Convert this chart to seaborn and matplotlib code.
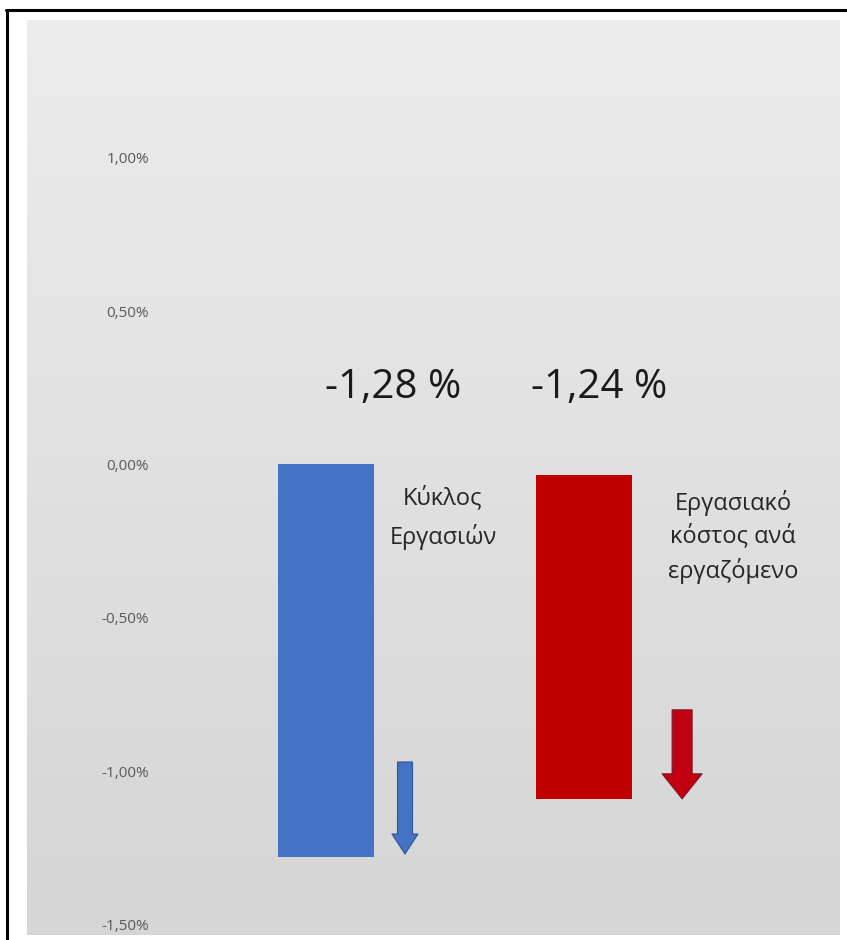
import numpy as np
import pandas as pd
import matplotlib
matplotlib.use("Agg")
import matplotlib.pyplot as plt
import seaborn as sns
from matplotlib.lines import Line2D
from matplotlib.colors import LinearSegmentedColormap

# ---- data ----
categories = ["Κύκλος Εργασιών", "Εργασιακό κόστος ανά εργαζόμενο"]
bar_top = [0.00, -0.035]
bar_end = [-1.28, -1.09]
value_labels = ["-1,28 %", "-1,24 %"]
name_texts = ["Κύκλος\nΕργασιών", "Εργασιακό\nκόστος ανά\nεργαζόμενο"]
bar_colors = ["#4472C4", "#C00000"]
arrow_from = [-0.97, -0.80]
arrow_to = [-1.27, -1.09]
tick_values = [1.0, 0.5, 0.0, -0.5, -1.0, -1.5]
tick_labels = ["1,00%", "0,50%", "0,00%", "-0,50%", "-1,00%", "-1,50%"]

sns.set_theme(style="white")
plt.rcParams["font.family"] = ["Open Sans", "DejaVu Sans"]

W, H = 847, 940
fig = plt.figure(figsize=(W / 100, H / 100), dpi=100)
fig.patch.set_facecolor("white")

ax = fig.add_axes([27 / W, 5 / H, 812 / W, 915 / H])
ax.set_facecolor("none")

# gradient panel background
cmap = LinearSegmentedColormap.from_list("bg", ["#ececec", "#d5d5d5"])
ax.imshow(np.linspace(0, 1, 256).reshape(-1, 1), cmap=cmap, extent=(0, 1, 0, 1),
          transform=ax.transAxes, aspect="auto", zorder=0)

df = pd.DataFrame({"cat": categories,
                   "height": [e - t for e, t in zip(bar_end, bar_top)]})
sns.barplot(data=df, x="cat", y="height", bottom=bar_top, width=0.37,
            color=bar_colors[0], saturation=1,
            linewidth=0, errorbar=None, ax=ax, zorder=2)
for p, c in zip(ax.patches, bar_colors):
    p.set_facecolor(c)
    p.set_edgecolor("none")

ax.set_xlim(-1.159, 1.988)
ax.set_ylim(-1.534, 1.449)
ax.set_xlabel("")
ax.set_ylabel("")
ax.set_xticks([])
ax.set_yticks(tick_values)
ax.set_yticklabels(tick_labels)
ax.tick_params(axis="y", length=0, pad=-88, labelsize=11, labelcolor="#595959")
for s in ax.spines.values():
    s.set_visible(False)

# value labels above bars
for i, lab in enumerate(value_labels):
    ax.text(i + (0.26 if i == 0 else 0.058), 0.249, lab, ha="center", va="center",
            fontsize=29, color="#1a1a1a", zorder=3)

# category names
name_pos = [(0.453, -0.174, 1.65), (1.578, -0.236, 1.45)]
for (x, y, ls), t in zip(name_pos, name_texts):
    ax.text(x, y, t, ha="center", va="center", fontsize=17, color="#262626",
            linespacing=ls, zorder=3)

# arrows
arrow_x = [0.306, 1.38]
arrow_style = ["simple,tail_width=10.8,head_width=18.7,head_length=14.4",
               "simple,tail_width=14.4,head_width=28.8,head_length=18"]
arrow_fc = ["#4472C4", "#C00010"]
arrow_ec = ["#2F5597", "#7A1A2A"]
for i in range(2):
    ax.annotate("", xy=(arrow_x[i], arrow_to[i]), xytext=(arrow_x[i], arrow_from[i]),
                arrowprops=dict(arrowstyle=arrow_style[i], mutation_scale=1,
                                fc=arrow_fc[i], ec=arrow_ec[i], lw=0.8,
                                shrinkA=0, shrinkB=0),
                zorder=3)

# image border (top and left)
fig.add_artist(Line2D([6 / W, 1], [1 - 10 / H, 1 - 10 / H], color="black", lw=2.2,
                      transform=fig.transFigure))
fig.add_artist(Line2D([7 / W, 7 / W], [0, 1 - 10 / H], color="black", lw=2.2,
                      transform=fig.transFigure))

fig.savefig("out.png", dpi=100)
